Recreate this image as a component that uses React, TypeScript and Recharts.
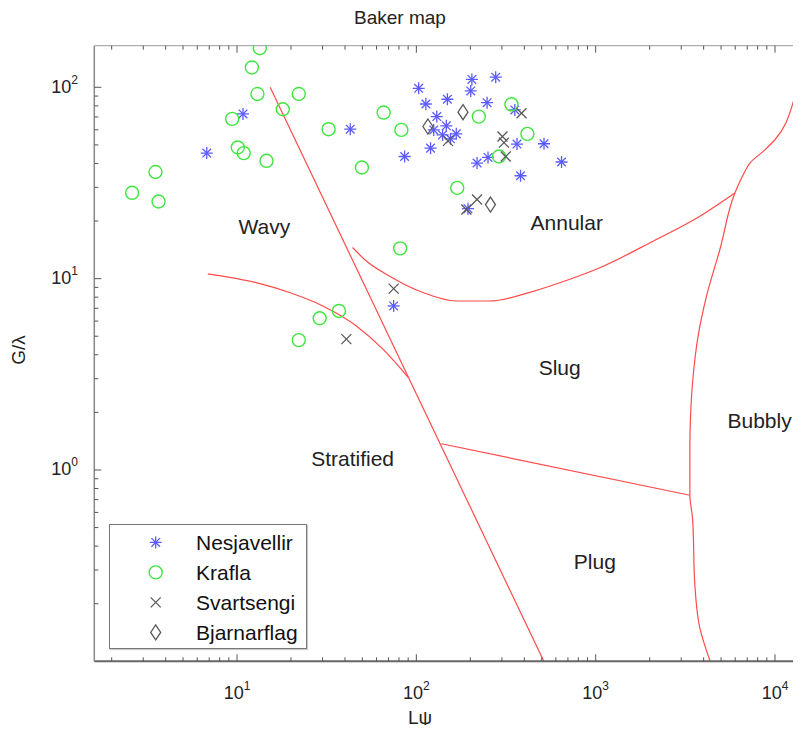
import React from "react";
import {
  ComposedChart,
  Line,
  Scatter,
  XAxis,
  YAxis,
  ReferenceDot,
  Legend,
} from "recharts";

const FONT = "'Liberation Sans', Arial, Helvetica, sans-serif";

const NESJAVELLIR = [
  { x: 6.78, y: 45.3 }, { x: 10.8, y: 72.6 }, { x: 42.8, y: 60.4 }, { x: 103, y: 98.8 },
  { x: 113, y: 81.8 }, { x: 149, y: 86.6 }, { x: 204, y: 110 }, { x: 277, y: 113 },
  { x: 201, y: 95.7 }, { x: 248, y: 83.1 }, { x: 130, y: 70.3 }, { x: 147, y: 62.9 },
  { x: 125, y: 59.9 }, { x: 167, y: 57.1 }, { x: 140, y: 56.4 }, { x: 155, y: 53.8 },
  { x: 120, y: 48.1 }, { x: 86, y: 43.5 }, { x: 218, y: 40.2 }, { x: 251, y: 43.0 },
  { x: 364, y: 50.5 }, { x: 354, y: 76.2 }, { x: 515, y: 50.7 }, { x: 645, y: 40.7 },
  { x: 381, y: 34.5 }, { x: 194, y: 23.2 }, { x: 74.7, y: 7.2 },
];

const KRAFLA = [
  { x: 13.4, y: 160 }, { x: 12.1, y: 127 }, { x: 13.0, y: 92.3 }, { x: 22.1, y: 92.3 },
  { x: 18.0, y: 76.8 }, { x: 9.4, y: 68.4 }, { x: 32.4, y: 60.4 }, { x: 65.7, y: 73.8 },
  { x: 82.5, y: 59.9 }, { x: 10.1, y: 48.5 }, { x: 10.9, y: 45.3 }, { x: 14.6, y: 41.3 },
  { x: 3.51, y: 36.1 }, { x: 2.6, y: 28.1 }, { x: 3.65, y: 25.3 }, { x: 49.7, y: 38.1 },
  { x: 81.2, y: 14.4 }, { x: 223, y: 70.3 }, { x: 339, y: 81.5 }, { x: 416, y: 57.1 },
  { x: 289, y: 43.5 }, { x: 169, y: 29.8 }, { x: 37, y: 6.78 }, { x: 28.9, y: 6.21 },
  { x: 22.1, y: 4.77 },
];

const SVARTSENGI = [
  { x: 386, y: 73.2 }, { x: 302, y: 55.3 }, { x: 308, y: 51.4 }, { x: 315, y: 43.5 },
  { x: 218, y: 25.9 }, { x: 190, y: 23.0 }, { x: 150, y: 52.5 }, { x: 40.7, y: 4.83 },
  { x: 74.7, y: 8.87 },
];

const BJARNARFLAG = [
  { x: 182, y: 74.1 }, { x: 116, y: 62.4 }, { x: 259, y: 24.4 },
];

// Baker map flow-regime boundaries
const WAVY_STRATIFIED = [
  { x: 6.87, y: 10.6 }, { x: 12.8, y: 9.53 }, { x: 19.6, y: 8.46 }, { x: 30.1, y: 7.2 },
  { x: 46.3, y: 5.66 }, { x: 65.1, y: 4.28 }, { x: 90, y: 3.05 },
];
const STEEP = [{ x: 15.3, y: 100 }, { x: 514, y: 0.1 }];
const ANNULAR_SLUG = [
  { x: 44.1, y: 14.55 }, { x: 51.4, y: 12.6 }, { x: 71.0, y: 10.3 }, { x: 108.8, y: 8.46 },
  { x: 167, y: 7.64 }, { x: 256, y: 7.64 }, { x: 429, y: 8.48 }, { x: 717, y: 9.92 },
  { x: 1054, y: 11.4 }, { x: 2091, y: 15.7 }, { x: 3810, y: 21.2 }, { x: 5974, y: 28.05 },
];
const BUBBLY = [
  { x: 17246, y: 164.7 }, { x: 13477, y: 98.8 }, { x: 9987, y: 53.2 }, { x: 8783, y: 47.1 },
  { x: 7244, y: 40.2 }, { x: 6795, y: 36.3 }, { x: 6371, y: 32.2 }, { x: 5974, y: 28.05 },
  { x: 4926, y: 14.2 }, { x: 4153, y: 8.12 }, { x: 3727, y: 5.02 }, { x: 3496, y: 3.11 },
  { x: 3381, y: 1.925 }, { x: 3351, y: 1.291 }, { x: 3351, y: 0.7375 }, { x: 3469, y: 0.5577 },
  { x: 3573, y: 0.2506 }, { x: 3810, y: 0.1491 }, { x: 4350, y: 0.1 },
];
const SLUG_PLUG = [{ x: 137.9, y: 1.371 }, { x: 3351, y: 0.7375 }];

const REGIONS = [
  { name: "Wavy", x: 14.2, y: 18.7 },
  { name: "Annular", x: 690, y: 19.6 },
  { name: "Slug", x: 630, y: 3.45 },
  { name: "Stratified", x: 44.1, y: 1.145 },
  { name: "Plug", x: 989, y: 0.333 },
  { name: "Bubbly", x: 8204, y: 1.812 },
];

const X_DOMAIN = [1.6, 20000];
const Y_DOMAIN = [0.1, 165];
const X_TICKS = [
  2, 3, 4, 5, 6, 7, 8, 9,
  10, 20, 30, 40, 50, 60, 70, 80, 90,
  100, 200, 300, 400, 500, 600, 700, 800, 900,
  1000, 2000, 3000, 4000, 5000, 6000, 7000, 8000, 9000,
  10000,
];
const Y_TICKS = [
  0.2, 0.3, 0.4, 0.5, 0.6, 0.7, 0.8, 0.9,
  1, 2, 3, 4, 5, 6, 7, 8, 9,
  10, 20, 30, 40, 50, 60, 70, 80, 90,
  100,
];

const BLUE = "#5a5aff";
const GREEN = "#3fe63f";
const GREY = "#5a5a5a";
const RED = "#ff4a4a";

// plot box, svg coords
const PL = 86.3;
const PT = 37.7;
const PB = 653.3;

const isMajor = (v: number) => Math.abs(Math.log10(v) - Math.round(Math.log10(v))) < 1e-9;

function Asterisk({ cx, cy }: { cx: number; cy: number }) {
  return (
    <g stroke={BLUE} strokeWidth={1.3}>
      <line x1={cx} y1={cy - 6} x2={cx} y2={cy + 6} />
      <line x1={cx - 6} y1={cy} x2={cx + 6} y2={cy} />
      <line x1={cx - 4.3} y1={cy - 4.3} x2={cx + 4.3} y2={cy + 4.3} />
      <line x1={cx - 4.3} y1={cy + 4.3} x2={cx + 4.3} y2={cy - 4.3} />
    </g>
  );
}
function Ring({ cx, cy }: { cx: number; cy: number }) {
  return <circle cx={cx} cy={cy} r={6.5} fill="none" stroke={GREEN} strokeWidth={1.4} />;
}
function Cross({ cx, cy }: { cx: number; cy: number }) {
  return (
    <g stroke={GREY} strokeWidth={1.3}>
      <line x1={cx - 5} y1={cy - 5} x2={cx + 5} y2={cy + 5} />
      <line x1={cx - 5} y1={cy + 5} x2={cx + 5} y2={cy - 5} />
    </g>
  );
}
function Diamond({ cx, cy }: { cx: number; cy: number }) {
  return (
    <polygon
      points={`${cx},${cy - 7.5} ${cx + 5},${cy} ${cx},${cy + 7.5} ${cx - 5},${cy}`}
      fill="none"
      stroke={GREY}
      strokeWidth={1.3}
    />
  );
}

const SERIES = [
  { name: "Nesjavellir", data: NESJAVELLIR, Mark: Asterisk },
  { name: "Krafla", data: KRAFLA, Mark: Ring },
  { name: "Svartsengi", data: SVARTSENGI, Mark: Cross },
  { name: "Bjarnarflag", data: BJARNARFLAG, Mark: Diamond },
];

function Pow({ x, y, exp, anchor }: { x: number; y: number; exp: number; anchor: string }) {
  return (
    <text x={x} y={y} textAnchor={anchor as any} fontSize={18} fontFamily={FONT} fill="#222">
      10<tspan dy={-9} fontSize={12}>{exp}</tspan>
    </text>
  );
}

function BottomTick(props: any) {
  const { x, payload } = props;
  const v = payload.value;
  const major = isMajor(v);
  return (
    <g>
      <line x1={x} x2={x} y1={PB} y2={PB - (major ? 7 : 4)} stroke="#555" />
      {major && <Pow x={x} y={PB + 37.5} exp={Math.round(Math.log10(v))} anchor="middle" />}
    </g>
  );
}

function TopTick(props: any) {
  const { x, payload } = props;
  const major = isMajor(payload.value);
  return <line x1={x} x2={x} y1={PT} y2={PT + (major ? 7 : 4)} stroke="#555" />;
}

function LeftTick(props: any) {
  const { y, payload } = props;
  const v = payload.value;
  const major = isMajor(v);
  return (
    <g>
      <line x1={PL} x2={PL + (major ? 7 : 4)} y1={y} y2={y} stroke="#555" />
      {major && <Pow x={70} y={y + 5.5} exp={Math.round(Math.log10(v))} anchor="end" />}
    </g>
  );
}

function LegendBox() {
  return (
    <div
      style={{
        width: 198,
        height: 125,
        border: "1px solid #777",
        boxSizing: "border-box",
        background: "#fff",
        boxShadow: "1px 1px 1px #ccc",
      }}
    >
      <svg width={196} height={123} style={{ display: "block" }}>
        {SERIES.map((s, i) => (
          <g key={s.name}>
            <s.Mark cx={45.7} cy={17.4 + i * 30} />
            <text x={86} y={17.4 + i * 30 + 7.5} fontSize={21} fontFamily={FONT} fill="#111">
              {s.name}
            </text>
          </g>
        ))}
      </svg>
    </div>
  );
}

// title and axis name, drawn with the bottom axis label
function Titles() {
  return (
    <g fontFamily={FONT} fill="#222" fontSize={19}>
      <text x={392} y={16} textAnchor="middle">Baker map</text>
      <text x={412} y={716} textAnchor="middle">Lψ</text>
    </g>
  );
}

export default function App() {
  return (
    <div
      style={{
        width: 793,
        height: 725,
        overflow: "hidden",
        position: "relative",
        marginBottom: -8,
        background: "#fff",
      }}
    >
      <ComposedChart
        width={840}
        height={725}
        margin={{ top: PT - 1, right: 19, bottom: 11.7, left: 0 }}
      >
        <XAxis
          dataKey="x"
          type="number"
          scale="log"
          domain={X_DOMAIN}
          allowDataOverflow
          ticks={X_TICKS}
          interval={0}
          height={60}
          tickLine={false}
          tickSize={0}
          axisLine={{ stroke: "#666", strokeWidth: 2 }}
          tick={(p: any) => <BottomTick {...p} />}
          label={{ content: () => <Titles /> }}
        />
        <XAxis
          xAxisId="top"
          orientation="top"
          dataKey="x"
          type="number"
          scale="log"
          domain={X_DOMAIN}
          allowDataOverflow
          ticks={X_TICKS}
          interval={0}
          height={1}
          tickLine={false}
          tickSize={0}
          axisLine={{ stroke: "#999" }}
          tick={(p: any) => <TopTick {...p} />}
        />
        <YAxis
          dataKey="y"
          type="number"
          scale="log"
          domain={Y_DOMAIN}
          allowDataOverflow
          ticks={Y_TICKS}
          interval={0}
          width={PL}
          tickLine={false}
          tickSize={0}
          axisLine={{ stroke: "#888", strokeWidth: 1.5 }}
          tick={(p: any) => <LeftTick {...p} />}
          label={{
            content: () => (
              <text
                x={17}
                y={342}
                transform="rotate(-90, 17, 342)"
                textAnchor="middle"
                fontSize={19}
                fontFamily={FONT}
                fill="#222"
              >
                G/λ
              </text>
            ),
          }}
        />

        {/* regime boundaries */}
        <Line data={WAVY_STRATIFIED} dataKey="y" type="monotone" stroke={RED} strokeWidth={1.2} dot={false} activeDot={false} legendType="none" isAnimationActive={false} />
        <Line data={STEEP} dataKey="y" type="linear" stroke={RED} strokeWidth={1.2} dot={false} activeDot={false} legendType="none" isAnimationActive={false} />
        <Line data={ANNULAR_SLUG} dataKey="y" type="monotone" stroke={RED} strokeWidth={1.2} dot={false} activeDot={false} legendType="none" isAnimationActive={false} />
        <Line data={BUBBLY} dataKey="y" type="monotoneY" stroke={RED} strokeWidth={1.2} dot={false} activeDot={false} legendType="none" isAnimationActive={false} />
        <Line data={SLUG_PLUG} dataKey="y" type="linear" stroke={RED} strokeWidth={1.2} dot={false} activeDot={false} legendType="none" isAnimationActive={false} />

        {SERIES.map((s) => (
          <Scatter
            key={s.name}
            name={s.name}
            data={s.data}
            dataKey="y"
            isAnimationActive={false}
            shape={(p: any) => <s.Mark cx={p.cx} cy={p.cy} />}
          />
        ))}

        {REGIONS.map((r) => (
          <ReferenceDot
            key={r.name}
            x={r.x}
            y={r.y}
            r={0}
            fill="none"
            stroke="none"
            label={{ value: r.name, position: "center", fill: "#222", fontSize: 21, fontFamily: FONT }}
          />
        ))}

        <Legend
          layout="horizontal"
          verticalAlign="middle"
          align="center"
          wrapperStyle={{ left: 101, top: 516.3, width: 198, height: 125 }}
          content={() => <LegendBox />}
        />
      </ComposedChart>
    </div>
  );
}
